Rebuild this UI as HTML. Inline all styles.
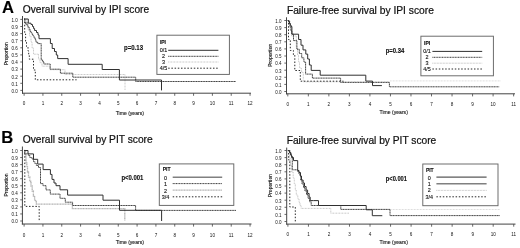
<!DOCTYPE html>
<html><head><meta charset="utf-8"><style>
html,body{margin:0;padding:0;background:#fff;}
svg{display:block;font-family:"Liberation Sans", sans-serif;filter:blur(0.35px);}
text{stroke:#111;stroke-width:0.12px;}
</style></head><body>
<svg width="520" height="248" viewBox="0 0 520 248">
<rect width="520" height="248" fill="#fff"/>
<line x1="22.5" y1="16" x2="22.5" y2="93.7" stroke="#444" stroke-width="1" />
<line x1="22.0" y1="93.2" x2="251" y2="93.2" stroke="#444" stroke-width="1" />
<line x1="20.3" y1="90.4" x2="22.5" y2="90.4" stroke="#444" stroke-width="0.8" />
<text x="17.7" y="92.7" font-size="4.5" text-anchor="end" font-weight="normal" fill="#111" style="stroke:none">0.0</text>
<line x1="20.3" y1="83.30000000000001" x2="22.5" y2="83.30000000000001" stroke="#444" stroke-width="0.8" />
<text x="17.7" y="85.60000000000001" font-size="4.5" text-anchor="end" font-weight="normal" fill="#111" style="stroke:none">0.1</text>
<line x1="20.3" y1="76.2" x2="22.5" y2="76.2" stroke="#444" stroke-width="0.8" />
<text x="17.7" y="78.5" font-size="4.5" text-anchor="end" font-weight="normal" fill="#111" style="stroke:none">0.2</text>
<line x1="20.3" y1="69.10000000000001" x2="22.5" y2="69.10000000000001" stroke="#444" stroke-width="0.8" />
<text x="17.7" y="71.4" font-size="4.5" text-anchor="end" font-weight="normal" fill="#111" style="stroke:none">0.3</text>
<line x1="20.3" y1="62.0" x2="22.5" y2="62.0" stroke="#444" stroke-width="0.8" />
<text x="17.7" y="64.3" font-size="4.5" text-anchor="end" font-weight="normal" fill="#111" style="stroke:none">0.4</text>
<line x1="20.3" y1="54.900000000000006" x2="22.5" y2="54.900000000000006" stroke="#444" stroke-width="0.8" />
<text x="17.7" y="57.2" font-size="4.5" text-anchor="end" font-weight="normal" fill="#111" style="stroke:none">0.5</text>
<line x1="20.3" y1="47.800000000000004" x2="22.5" y2="47.800000000000004" stroke="#444" stroke-width="0.8" />
<text x="17.7" y="50.1" font-size="4.5" text-anchor="end" font-weight="normal" fill="#111" style="stroke:none">0.6</text>
<line x1="20.3" y1="40.70000000000001" x2="22.5" y2="40.70000000000001" stroke="#444" stroke-width="0.8" />
<text x="17.7" y="43.00000000000001" font-size="4.5" text-anchor="end" font-weight="normal" fill="#111" style="stroke:none">0.7</text>
<line x1="20.3" y1="33.6" x2="22.5" y2="33.6" stroke="#444" stroke-width="0.8" />
<text x="17.7" y="35.9" font-size="4.5" text-anchor="end" font-weight="normal" fill="#111" style="stroke:none">0.8</text>
<line x1="20.3" y1="26.500000000000007" x2="22.5" y2="26.500000000000007" stroke="#444" stroke-width="0.8" />
<text x="17.7" y="28.800000000000008" font-size="4.5" text-anchor="end" font-weight="normal" fill="#111" style="stroke:none">0.9</text>
<line x1="20.3" y1="19.400000000000006" x2="22.5" y2="19.400000000000006" stroke="#444" stroke-width="0.8" />
<text x="17.7" y="21.700000000000006" font-size="4.5" text-anchor="end" font-weight="normal" fill="#111" style="stroke:none">1.0</text>
<line x1="24.1" y1="93.2" x2="24.1" y2="95.8" stroke="#444" stroke-width="0.8" />
<text x="24.1" y="105.2" font-size="4.6" text-anchor="middle" font-weight="normal" fill="#111" style="stroke:none">0</text>
<line x1="42.93" y1="93.2" x2="42.93" y2="95.8" stroke="#444" stroke-width="0.8" />
<text x="42.93" y="105.2" font-size="4.6" text-anchor="middle" font-weight="normal" fill="#111" style="stroke:none">1</text>
<line x1="61.76" y1="93.2" x2="61.76" y2="95.8" stroke="#444" stroke-width="0.8" />
<text x="61.76" y="105.2" font-size="4.6" text-anchor="middle" font-weight="normal" fill="#111" style="stroke:none">2</text>
<line x1="80.59" y1="93.2" x2="80.59" y2="95.8" stroke="#444" stroke-width="0.8" />
<text x="80.59" y="105.2" font-size="4.6" text-anchor="middle" font-weight="normal" fill="#111" style="stroke:none">3</text>
<line x1="99.41999999999999" y1="93.2" x2="99.41999999999999" y2="95.8" stroke="#444" stroke-width="0.8" />
<text x="99.41999999999999" y="105.2" font-size="4.6" text-anchor="middle" font-weight="normal" fill="#111" style="stroke:none">4</text>
<line x1="118.25" y1="93.2" x2="118.25" y2="95.8" stroke="#444" stroke-width="0.8" />
<text x="118.25" y="105.2" font-size="4.6" text-anchor="middle" font-weight="normal" fill="#111" style="stroke:none">5</text>
<line x1="137.07999999999998" y1="93.2" x2="137.07999999999998" y2="95.8" stroke="#444" stroke-width="0.8" />
<text x="137.07999999999998" y="105.2" font-size="4.6" text-anchor="middle" font-weight="normal" fill="#111" style="stroke:none">6</text>
<line x1="155.91" y1="93.2" x2="155.91" y2="95.8" stroke="#444" stroke-width="0.8" />
<text x="155.91" y="105.2" font-size="4.6" text-anchor="middle" font-weight="normal" fill="#111" style="stroke:none">7</text>
<line x1="174.73999999999998" y1="93.2" x2="174.73999999999998" y2="95.8" stroke="#444" stroke-width="0.8" />
<text x="174.73999999999998" y="105.2" font-size="4.6" text-anchor="middle" font-weight="normal" fill="#111" style="stroke:none">8</text>
<line x1="193.56999999999996" y1="93.2" x2="193.56999999999996" y2="95.8" stroke="#444" stroke-width="0.8" />
<text x="193.56999999999996" y="105.2" font-size="4.6" text-anchor="middle" font-weight="normal" fill="#111" style="stroke:none">9</text>
<line x1="212.39999999999998" y1="93.2" x2="212.39999999999998" y2="95.8" stroke="#444" stroke-width="0.8" />
<text x="212.39999999999998" y="105.2" font-size="4.6" text-anchor="middle" font-weight="normal" fill="#111" style="stroke:none">10</text>
<line x1="231.23" y1="93.2" x2="231.23" y2="95.8" stroke="#444" stroke-width="0.8" />
<text x="231.23" y="105.2" font-size="4.6" text-anchor="middle" font-weight="normal" fill="#111" style="stroke:none">11</text>
<line x1="250.05999999999997" y1="93.2" x2="250.05999999999997" y2="95.8" stroke="#444" stroke-width="0.8" />
<text x="250.05999999999997" y="105.2" font-size="4.6" text-anchor="middle" font-weight="normal" fill="#111" style="stroke:none">12</text>
<text x="129.8" y="115.4" font-size="5.8" text-anchor="middle" font-weight="normal" fill="#111"  textLength="28.3" lengthAdjust="spacingAndGlyphs">Time (years)</text>
<text x="0" y="0" font-size="5.0" fill="#111" text-anchor="middle" transform="translate(7.6,53.7) rotate(-90)">Proportion</text>
<text x="22.7" y="12.6" font-size="10.5" text-anchor="start" font-weight="normal" fill="#111" style="stroke-width:0.22px" textLength="126.5" lengthAdjust="spacingAndGlyphs">Overall survival by IPI score</text>
<text x="124" y="50.2" font-size="6.3" text-anchor="start" font-weight="bold" fill="#111"  textLength="19.0" lengthAdjust="spacingAndGlyphs">p=0.13</text>
<rect x="156.9" y="35.2" width="72.5" height="39.2" fill="none" stroke="#666" stroke-width="0.95"/>
<text x="159.9" y="44.0" font-size="5.0" text-anchor="start" font-weight="bold" fill="#111" >IPI</text>
<text x="163.6" y="52.25" font-size="5.4" text-anchor="middle" font-weight="normal" fill="#111" >0/1</text>
<line x1="168.2" y1="50.3" x2="218.4" y2="50.3" stroke="#303030" stroke-width="1.0" />
<text x="163.6" y="58.25" font-size="5.4" text-anchor="middle" font-weight="normal" fill="#111" >2</text>
<line x1="168.2" y1="56.3" x2="218.4" y2="56.3" stroke="#3c3c3c" stroke-width="1.0" stroke-dasharray="1.1 0.5"/>
<text x="163.6" y="63.95" font-size="5.4" text-anchor="middle" font-weight="normal" fill="#111" >3</text>
<line x1="168.2" y1="62.0" x2="218.4" y2="62.0" stroke="#b8b8b8" stroke-width="0.9" stroke-dasharray="0.8 0.7"/>
<text x="163.6" y="70.15" font-size="5.4" text-anchor="middle" font-weight="normal" fill="#111" >4/5</text>
<line x1="168.2" y1="68.2" x2="218.4" y2="68.2" stroke="#2a2a2a" stroke-width="1.0" stroke-dasharray="1.5 1.7"/>
<polyline points="24.1,19.0 26.8,19.0 26.8,24 28,24 28,30 29.5,30 29.5,36 31,36 31,42 32.1,42 32.1,48 33.5,48 33.5,54.2 38.5,54.2 38.5,59 40,59 40,62.7 42,62.7 42,66.2 49.8,66.2 49.8,69.7 65,69.7 65,74.5 125,74.5 125,90.4" fill="none" stroke="#b8b8b8" stroke-width="0.9" stroke-dasharray="0.8 0.7"/>
<polyline points="24.1,19.0 24.7,19.0 24.7,34 25.6,34 25.6,42 26.5,42 26.5,46.5 28,46.5 28,51 28.7,51 28.7,55 29.3,55 29.3,59.2 33.5,59.2 33.5,70 35.3,70 35.3,79.8 76.6,79.8" fill="none" stroke="#2a2a2a" stroke-width="1.0" stroke-dasharray="1.5 1.7"/>
<polyline points="24.1,19.0 24.9,19.0 24.9,23 26,23 26,24.5 27.3,24.5 27.3,26 28.3,26 28.3,27.5 29.3,27.5 29.3,29.5 30.2,29.5 30.2,31.5 31.2,31.5 31.2,33 32.2,33 32.2,34.5 33.1,34.5 33.1,36 34.1,36 34.1,37.8 35.1,37.8 35.1,39.6 35.9,39.6 35.9,42 37.7,42 37.7,43.6 41.2,43.6 41.2,59.8 42.6,59.8 42.6,61.6 43.8,61.6 43.8,64 50.2,64 50.2,69.2 60.4,69.2 60.4,73.2 72.8,73.2 72.8,77.2 135.7,77.2 135.7,81.5 236,81.5" fill="none" stroke="#454545" stroke-width="1.0" stroke-dasharray="1.3 0.35"/>
<polyline points="24.9,22.9 28.3,22.9" fill="none" stroke="#454545" stroke-width="1.0" stroke-dasharray="1.3 0.35"/>
<polyline points="24.1,19.0 28.3,19.0 28.3,23.2 31,23.2 31,24.5 32.5,24.5 32.5,26.5 33.6,26.5 33.6,28.6 34.6,28.6 34.6,30.5 36.5,30.5 36.5,32.5 38,32.5 38,34.9 39,34.9 39,38.7 50.4,38.7 50.4,43.5 52.2,43.5 52.2,48.5 54.5,48.5 54.5,51.5 56.3,51.5 56.3,55 57.7,55 57.7,58.6 68.1,58.6 68.1,64.3 102.2,64.3 102.2,69.5 119.4,69.5 119.4,80 161.5,80 161.5,90.4" fill="none" stroke="#303030" stroke-width="1.0" />
<line x1="286.5" y1="17.3" x2="286.5" y2="94.3" stroke="#444" stroke-width="1" />
<line x1="286.0" y1="93.8" x2="515" y2="93.8" stroke="#444" stroke-width="1" />
<line x1="284.3" y1="91.5" x2="286.5" y2="91.5" stroke="#444" stroke-width="0.8" />
<text x="281.6" y="93.8" font-size="4.5" text-anchor="end" font-weight="normal" fill="#111" style="stroke:none">0.0</text>
<line x1="284.3" y1="84.4" x2="286.5" y2="84.4" stroke="#444" stroke-width="0.8" />
<text x="281.6" y="86.7" font-size="4.5" text-anchor="end" font-weight="normal" fill="#111" style="stroke:none">0.1</text>
<line x1="284.3" y1="77.3" x2="286.5" y2="77.3" stroke="#444" stroke-width="0.8" />
<text x="281.6" y="79.6" font-size="4.5" text-anchor="end" font-weight="normal" fill="#111" style="stroke:none">0.2</text>
<line x1="284.3" y1="70.2" x2="286.5" y2="70.2" stroke="#444" stroke-width="0.8" />
<text x="281.6" y="72.5" font-size="4.5" text-anchor="end" font-weight="normal" fill="#111" style="stroke:none">0.3</text>
<line x1="284.3" y1="63.099999999999994" x2="286.5" y2="63.099999999999994" stroke="#444" stroke-width="0.8" />
<text x="281.6" y="65.39999999999999" font-size="4.5" text-anchor="end" font-weight="normal" fill="#111" style="stroke:none">0.4</text>
<line x1="284.3" y1="56.0" x2="286.5" y2="56.0" stroke="#444" stroke-width="0.8" />
<text x="281.6" y="58.3" font-size="4.5" text-anchor="end" font-weight="normal" fill="#111" style="stroke:none">0.5</text>
<line x1="284.3" y1="48.9" x2="286.5" y2="48.9" stroke="#444" stroke-width="0.8" />
<text x="281.6" y="51.199999999999996" font-size="4.5" text-anchor="end" font-weight="normal" fill="#111" style="stroke:none">0.6</text>
<line x1="284.3" y1="41.800000000000004" x2="286.5" y2="41.800000000000004" stroke="#444" stroke-width="0.8" />
<text x="281.6" y="44.1" font-size="4.5" text-anchor="end" font-weight="normal" fill="#111" style="stroke:none">0.7</text>
<line x1="284.3" y1="34.699999999999996" x2="286.5" y2="34.699999999999996" stroke="#444" stroke-width="0.8" />
<text x="281.6" y="36.99999999999999" font-size="4.5" text-anchor="end" font-weight="normal" fill="#111" style="stroke:none">0.8</text>
<line x1="284.3" y1="27.6" x2="286.5" y2="27.6" stroke="#444" stroke-width="0.8" />
<text x="281.6" y="29.900000000000002" font-size="4.5" text-anchor="end" font-weight="normal" fill="#111" style="stroke:none">0.9</text>
<line x1="284.3" y1="20.5" x2="286.5" y2="20.5" stroke="#444" stroke-width="0.8" />
<text x="281.6" y="22.8" font-size="4.5" text-anchor="end" font-weight="normal" fill="#111" style="stroke:none">1.0</text>
<line x1="287.8" y1="93.8" x2="287.8" y2="96.39999999999999" stroke="#444" stroke-width="0.8" />
<text x="287.8" y="106.1" font-size="4.6" text-anchor="middle" font-weight="normal" fill="#111" style="stroke:none">0</text>
<line x1="308.33000000000004" y1="93.8" x2="308.33000000000004" y2="96.39999999999999" stroke="#444" stroke-width="0.8" />
<text x="308.33000000000004" y="106.1" font-size="4.6" text-anchor="middle" font-weight="normal" fill="#111" style="stroke:none">1</text>
<line x1="328.86" y1="93.8" x2="328.86" y2="96.39999999999999" stroke="#444" stroke-width="0.8" />
<text x="328.86" y="106.1" font-size="4.6" text-anchor="middle" font-weight="normal" fill="#111" style="stroke:none">2</text>
<line x1="349.39" y1="93.8" x2="349.39" y2="96.39999999999999" stroke="#444" stroke-width="0.8" />
<text x="349.39" y="106.1" font-size="4.6" text-anchor="middle" font-weight="normal" fill="#111" style="stroke:none">3</text>
<line x1="369.92" y1="93.8" x2="369.92" y2="96.39999999999999" stroke="#444" stroke-width="0.8" />
<text x="369.92" y="106.1" font-size="4.6" text-anchor="middle" font-weight="normal" fill="#111" style="stroke:none">4</text>
<line x1="390.45000000000005" y1="93.8" x2="390.45000000000005" y2="96.39999999999999" stroke="#444" stroke-width="0.8" />
<text x="390.45000000000005" y="106.1" font-size="4.6" text-anchor="middle" font-weight="normal" fill="#111" style="stroke:none">5</text>
<line x1="410.98" y1="93.8" x2="410.98" y2="96.39999999999999" stroke="#444" stroke-width="0.8" />
<text x="410.98" y="106.1" font-size="4.6" text-anchor="middle" font-weight="normal" fill="#111" style="stroke:none">6</text>
<line x1="431.51" y1="93.8" x2="431.51" y2="96.39999999999999" stroke="#444" stroke-width="0.8" />
<text x="431.51" y="106.1" font-size="4.6" text-anchor="middle" font-weight="normal" fill="#111" style="stroke:none">7</text>
<line x1="452.04" y1="93.8" x2="452.04" y2="96.39999999999999" stroke="#444" stroke-width="0.8" />
<text x="452.04" y="106.1" font-size="4.6" text-anchor="middle" font-weight="normal" fill="#111" style="stroke:none">8</text>
<line x1="472.57000000000005" y1="93.8" x2="472.57000000000005" y2="96.39999999999999" stroke="#444" stroke-width="0.8" />
<text x="472.57000000000005" y="106.1" font-size="4.6" text-anchor="middle" font-weight="normal" fill="#111" style="stroke:none">9</text>
<line x1="493.1" y1="93.8" x2="493.1" y2="96.39999999999999" stroke="#444" stroke-width="0.8" />
<text x="493.1" y="106.1" font-size="4.6" text-anchor="middle" font-weight="normal" fill="#111" style="stroke:none">10</text>
<line x1="513.63" y1="93.8" x2="513.63" y2="96.39999999999999" stroke="#444" stroke-width="0.8" />
<text x="513.63" y="106.1" font-size="4.6" text-anchor="middle" font-weight="normal" fill="#111" style="stroke:none">11</text>
<text x="393.7" y="114.4" font-size="5.8" text-anchor="middle" font-weight="normal" fill="#111"  textLength="28.3" lengthAdjust="spacingAndGlyphs">Time (years)</text>
<text x="0" y="0" font-size="5.0" fill="#111" text-anchor="middle" transform="translate(271.6,55.3) rotate(-90)">Proportion</text>
<text x="286.9" y="13.6" font-size="10.5" text-anchor="start" font-weight="normal" fill="#111" style="stroke-width:0.22px" textLength="147" lengthAdjust="spacingAndGlyphs">Failure-free survival by IPI score</text>
<text x="385.7" y="52.9" font-size="6.3" text-anchor="start" font-weight="bold" fill="#111"  textLength="18.5" lengthAdjust="spacingAndGlyphs">p=0.34</text>
<rect x="420.9" y="36.2" width="72.5" height="39.599999999999994" fill="none" stroke="#666" stroke-width="0.95"/>
<text x="424.0" y="44.6" font-size="5.0" text-anchor="start" font-weight="bold" fill="#111" >IPI</text>
<text x="427" y="53.35" font-size="5.4" text-anchor="middle" font-weight="normal" fill="#111" >0/1</text>
<line x1="432.4" y1="51.4" x2="482.2" y2="51.4" stroke="#303030" stroke-width="1.0" />
<text x="427" y="59.25" font-size="5.4" text-anchor="middle" font-weight="normal" fill="#111" >2</text>
<line x1="432.4" y1="57.3" x2="482.2" y2="57.3" stroke="#3c3c3c" stroke-width="1.0" stroke-dasharray="1.1 0.5"/>
<text x="427" y="65.15" font-size="5.4" text-anchor="middle" font-weight="normal" fill="#111" >3</text>
<line x1="432.4" y1="63.2" x2="482.2" y2="63.2" stroke="#b8b8b8" stroke-width="0.9" stroke-dasharray="0.8 0.7"/>
<text x="427" y="70.95" font-size="5.4" text-anchor="middle" font-weight="normal" fill="#111" >4/5</text>
<line x1="432.4" y1="69.0" x2="482.2" y2="69.0" stroke="#2a2a2a" stroke-width="1.0" stroke-dasharray="1.5 1.7"/>
<polyline points="287.8,20.5 290,20.5 290,30 291.5,30 291.5,36 294,36 296.3,36 296.3,42 296.3,48 297.5,48 297.5,55 298.5,55 298.5,62 299.5,62 299.5,68 301.5,68 301.5,72.3 303.3,72.3 303.3,81.8 390,81.8" fill="none" stroke="#b8b8b8" stroke-width="0.9" stroke-dasharray="0.8 0.7"/>
<polyline points="390,80.9 501,80.9" fill="none" stroke="#d0d0d0" stroke-width="0.9" stroke-dasharray="0.8 0.7"/>
<polyline points="287.8,20.5 288.5,20.5 288.5,39.6 290.3,39.6 290.3,50.5 293.4,50.5 293.4,55 294.8,55 294.8,70.5 300.3,70.5 300.3,81.2 343.5,81.2" fill="none" stroke="#2a2a2a" stroke-width="1.0" stroke-dasharray="1.5 1.7"/>
<polyline points="287.8,20.5 289,20.5 289,23 290,23 290,27 291,27 291,31 291.9,31 291.9,34.2 293.5,34.2 293.5,40.6 296.9,40.6 296.9,49.3 299.3,49.3 299.3,53.5 301.7,53.5 301.7,57.8 303.9,57.8 303.9,62 305.6,62 305.6,74.1 312.4,74.1 312.4,78.1 340.6,78.1 340.6,82.4 389.4,82.4 389.4,86.8 499.2,86.8" fill="none" stroke="#454545" stroke-width="1.0" stroke-dasharray="1.3 0.35"/>
<polyline points="287.8,20.5 288.6,20.5 288.6,21.5 289.5,21.5 289.5,23.5 290.3,23.5 290.3,25 291,25 291,26.5 291.9,26.5 291.9,34.2 298.6,34.2 298.6,39.5 301,39.5 301,45.2 303,45.2 303,49.9 305.8,49.9 305.8,54.1 307.7,54.1 307.7,59 309.4,59 309.4,65 311.2,65 311.2,70.4 320.2,70.4 320.2,75.2 365.8,75.2 365.8,81.1 372.5,81.1 372.5,85.6 381.9,85.6" fill="none" stroke="#303030" stroke-width="1.0" />
<line x1="22.4" y1="146.5" x2="22.4" y2="224.5" stroke="#444" stroke-width="1" />
<line x1="21.9" y1="224.0" x2="251.5" y2="224.0" stroke="#444" stroke-width="1" />
<line x1="20.2" y1="221.0" x2="22.4" y2="221.0" stroke="#444" stroke-width="0.8" />
<text x="17.7" y="223.3" font-size="4.5" text-anchor="end" font-weight="normal" fill="#111" style="stroke:none">0.0</text>
<line x1="20.2" y1="213.95" x2="22.4" y2="213.95" stroke="#444" stroke-width="0.8" />
<text x="17.7" y="216.25" font-size="4.5" text-anchor="end" font-weight="normal" fill="#111" style="stroke:none">0.1</text>
<line x1="20.2" y1="206.9" x2="22.4" y2="206.9" stroke="#444" stroke-width="0.8" />
<text x="17.7" y="209.20000000000002" font-size="4.5" text-anchor="end" font-weight="normal" fill="#111" style="stroke:none">0.2</text>
<line x1="20.2" y1="199.85" x2="22.4" y2="199.85" stroke="#444" stroke-width="0.8" />
<text x="17.7" y="202.15" font-size="4.5" text-anchor="end" font-weight="normal" fill="#111" style="stroke:none">0.3</text>
<line x1="20.2" y1="192.8" x2="22.4" y2="192.8" stroke="#444" stroke-width="0.8" />
<text x="17.7" y="195.10000000000002" font-size="4.5" text-anchor="end" font-weight="normal" fill="#111" style="stroke:none">0.4</text>
<line x1="20.2" y1="185.75" x2="22.4" y2="185.75" stroke="#444" stroke-width="0.8" />
<text x="17.7" y="188.05" font-size="4.5" text-anchor="end" font-weight="normal" fill="#111" style="stroke:none">0.5</text>
<line x1="20.2" y1="178.7" x2="22.4" y2="178.7" stroke="#444" stroke-width="0.8" />
<text x="17.7" y="181.0" font-size="4.5" text-anchor="end" font-weight="normal" fill="#111" style="stroke:none">0.6</text>
<line x1="20.2" y1="171.65" x2="22.4" y2="171.65" stroke="#444" stroke-width="0.8" />
<text x="17.7" y="173.95000000000002" font-size="4.5" text-anchor="end" font-weight="normal" fill="#111" style="stroke:none">0.7</text>
<line x1="20.2" y1="164.6" x2="22.4" y2="164.6" stroke="#444" stroke-width="0.8" />
<text x="17.7" y="166.9" font-size="4.5" text-anchor="end" font-weight="normal" fill="#111" style="stroke:none">0.8</text>
<line x1="20.2" y1="157.55" x2="22.4" y2="157.55" stroke="#444" stroke-width="0.8" />
<text x="17.7" y="159.85000000000002" font-size="4.5" text-anchor="end" font-weight="normal" fill="#111" style="stroke:none">0.9</text>
<line x1="20.2" y1="150.5" x2="22.4" y2="150.5" stroke="#444" stroke-width="0.8" />
<text x="17.7" y="152.8" font-size="4.5" text-anchor="end" font-weight="normal" fill="#111" style="stroke:none">1.0</text>
<line x1="24.1" y1="224.0" x2="24.1" y2="226.6" stroke="#444" stroke-width="0.8" />
<text x="24.1" y="236.5" font-size="4.6" text-anchor="middle" font-weight="normal" fill="#111" style="stroke:none">0</text>
<line x1="42.93" y1="224.0" x2="42.93" y2="226.6" stroke="#444" stroke-width="0.8" />
<text x="42.93" y="236.5" font-size="4.6" text-anchor="middle" font-weight="normal" fill="#111" style="stroke:none">1</text>
<line x1="61.76" y1="224.0" x2="61.76" y2="226.6" stroke="#444" stroke-width="0.8" />
<text x="61.76" y="236.5" font-size="4.6" text-anchor="middle" font-weight="normal" fill="#111" style="stroke:none">2</text>
<line x1="80.59" y1="224.0" x2="80.59" y2="226.6" stroke="#444" stroke-width="0.8" />
<text x="80.59" y="236.5" font-size="4.6" text-anchor="middle" font-weight="normal" fill="#111" style="stroke:none">3</text>
<line x1="99.41999999999999" y1="224.0" x2="99.41999999999999" y2="226.6" stroke="#444" stroke-width="0.8" />
<text x="99.41999999999999" y="236.5" font-size="4.6" text-anchor="middle" font-weight="normal" fill="#111" style="stroke:none">4</text>
<line x1="118.25" y1="224.0" x2="118.25" y2="226.6" stroke="#444" stroke-width="0.8" />
<text x="118.25" y="236.5" font-size="4.6" text-anchor="middle" font-weight="normal" fill="#111" style="stroke:none">5</text>
<line x1="137.07999999999998" y1="224.0" x2="137.07999999999998" y2="226.6" stroke="#444" stroke-width="0.8" />
<text x="137.07999999999998" y="236.5" font-size="4.6" text-anchor="middle" font-weight="normal" fill="#111" style="stroke:none">6</text>
<line x1="155.91" y1="224.0" x2="155.91" y2="226.6" stroke="#444" stroke-width="0.8" />
<text x="155.91" y="236.5" font-size="4.6" text-anchor="middle" font-weight="normal" fill="#111" style="stroke:none">7</text>
<line x1="174.73999999999998" y1="224.0" x2="174.73999999999998" y2="226.6" stroke="#444" stroke-width="0.8" />
<text x="174.73999999999998" y="236.5" font-size="4.6" text-anchor="middle" font-weight="normal" fill="#111" style="stroke:none">8</text>
<line x1="193.56999999999996" y1="224.0" x2="193.56999999999996" y2="226.6" stroke="#444" stroke-width="0.8" />
<text x="193.56999999999996" y="236.5" font-size="4.6" text-anchor="middle" font-weight="normal" fill="#111" style="stroke:none">9</text>
<line x1="212.39999999999998" y1="224.0" x2="212.39999999999998" y2="226.6" stroke="#444" stroke-width="0.8" />
<text x="212.39999999999998" y="236.5" font-size="4.6" text-anchor="middle" font-weight="normal" fill="#111" style="stroke:none">10</text>
<line x1="231.23" y1="224.0" x2="231.23" y2="226.6" stroke="#444" stroke-width="0.8" />
<text x="231.23" y="236.5" font-size="4.6" text-anchor="middle" font-weight="normal" fill="#111" style="stroke:none">11</text>
<line x1="250.05999999999997" y1="224.0" x2="250.05999999999997" y2="226.6" stroke="#444" stroke-width="0.8" />
<text x="250.05999999999997" y="236.5" font-size="4.6" text-anchor="middle" font-weight="normal" fill="#111" style="stroke:none">12</text>
<text x="129.8" y="244.0" font-size="5.8" text-anchor="middle" font-weight="normal" fill="#111"  textLength="28.3" lengthAdjust="spacingAndGlyphs">Time (years)</text>
<text x="0" y="0" font-size="5.0" fill="#111" text-anchor="middle" transform="translate(7.6,184.9) rotate(-90)">Proportion</text>
<text x="22.7" y="143.4" font-size="10.5" text-anchor="start" font-weight="normal" fill="#111" style="stroke-width:0.22px" textLength="130" lengthAdjust="spacingAndGlyphs">Overall survival by PIT score</text>
<text x="121.4" y="180.3" font-size="6.3" text-anchor="start" font-weight="bold" fill="#111"  textLength="22.0" lengthAdjust="spacingAndGlyphs">p&lt;0.001</text>
<rect x="159.3" y="163.9" width="74.5" height="41.5" fill="none" stroke="#666" stroke-width="0.95"/>
<text x="162.7" y="171" font-size="5.0" text-anchor="start" font-weight="bold" fill="#111" >PIT</text>
<text x="165.5" y="180.04999999999998" font-size="5.4" text-anchor="middle" font-weight="normal" fill="#111" >0</text>
<line x1="172.7" y1="177.2" x2="222.2" y2="177.2" stroke="#808080" stroke-width="1.4" />
<text x="165.5" y="186.04999999999998" font-size="5.4" text-anchor="middle" font-weight="normal" fill="#111" >1</text>
<line x1="172.7" y1="183.6" x2="222.2" y2="183.6" stroke="#3c3c3c" stroke-width="1.0" stroke-dasharray="1.1 0.5"/>
<text x="165.5" y="192.54999999999998" font-size="5.4" text-anchor="middle" font-weight="normal" fill="#111" >2</text>
<line x1="172.7" y1="190.1" x2="222.2" y2="190.1" stroke="#b4b4b4" stroke-width="1.3" stroke-dasharray="1.2 0.4"/>
<text x="165.5" y="198.85" font-size="5.4" text-anchor="middle" font-weight="normal" fill="#111" >3/4</text>
<line x1="172.7" y1="196.8" x2="222.2" y2="196.8" stroke="#2a2a2a" stroke-width="1.0" stroke-dasharray="1.5 1.7"/>
<polyline points="24.1,150.5 25.5,150.5 25.5,156 26,156 26,162 26.8,162 26.8,167 27.5,167 27.5,172 28.5,172 28.5,177 29.8,177 29.8,181.5 31,181.5 31,186 32.2,186 32.2,191 33.4,191 33.4,196 34.6,196 34.6,200.5 36.3,200.5 36.3,204.2 72.4,204.2 72.4,208.6 124.8,208.6 124.8,221" fill="none" stroke="#b4b4b4" stroke-width="1.3" stroke-dasharray="1.2 0.4"/>
<polyline points="24.1,150.5 24.8,150.5 24.8,206.4 39.2,206.4 39.2,221" fill="none" stroke="#2a2a2a" stroke-width="1.0" stroke-dasharray="1.5 1.7"/>
<polyline points="24.1,150.5 24.6,150.5 24.6,153.9 28.4,153.9 28.4,155.5 29.8,155.5 29.8,157.5 32,157.5 32,159 33.5,159 33.5,161.6 34.9,161.6 34.9,163.5 36.4,163.5 36.4,165.5 38.5,165.5 38.5,167.5 40.5,167.5 40.5,183.6 43,183.6 43,185.7 46,185.7 46,189.9 50.3,189.9 50.3,194.1 60,194.1 60,198.3 65.3,198.3 65.3,202.2 72.6,202.2 72.6,205.5 135.6,205.5 135.6,210.4 236,210.4" fill="none" stroke="#454545" stroke-width="1.0" stroke-dasharray="1.3 0.35"/>
<polyline points="24.1,150.5 28,150.5 28,153.9 33.5,153.9 33.5,159.3 37.7,159.3 37.7,164.1 43.1,164.1 43.1,169.6 50.4,169.6 50.4,174.4 52,174.4 52,179.4 54,179.4 54,183 56,183 56,185.7 60,185.7 60,189.8 67.6,189.8 67.6,195.1 103,195.1 103,200.2 119.5,200.2 119.5,210.3 161.6,210.3 161.6,221" fill="none" stroke="#303030" stroke-width="1.0" />
<line x1="286.7" y1="147.6" x2="286.7" y2="224.6" stroke="#444" stroke-width="1" />
<line x1="286.2" y1="224.1" x2="515.5" y2="224.1" stroke="#444" stroke-width="1" />
<line x1="284.5" y1="221.5" x2="286.7" y2="221.5" stroke="#444" stroke-width="0.8" />
<text x="281.6" y="223.8" font-size="4.5" text-anchor="end" font-weight="normal" fill="#111" style="stroke:none">0.0</text>
<line x1="284.5" y1="214.4" x2="286.7" y2="214.4" stroke="#444" stroke-width="0.8" />
<text x="281.6" y="216.70000000000002" font-size="4.5" text-anchor="end" font-weight="normal" fill="#111" style="stroke:none">0.1</text>
<line x1="284.5" y1="207.3" x2="286.7" y2="207.3" stroke="#444" stroke-width="0.8" />
<text x="281.6" y="209.60000000000002" font-size="4.5" text-anchor="end" font-weight="normal" fill="#111" style="stroke:none">0.2</text>
<line x1="284.5" y1="200.2" x2="286.7" y2="200.2" stroke="#444" stroke-width="0.8" />
<text x="281.6" y="202.5" font-size="4.5" text-anchor="end" font-weight="normal" fill="#111" style="stroke:none">0.3</text>
<line x1="284.5" y1="193.1" x2="286.7" y2="193.1" stroke="#444" stroke-width="0.8" />
<text x="281.6" y="195.4" font-size="4.5" text-anchor="end" font-weight="normal" fill="#111" style="stroke:none">0.4</text>
<line x1="284.5" y1="186.0" x2="286.7" y2="186.0" stroke="#444" stroke-width="0.8" />
<text x="281.6" y="188.3" font-size="4.5" text-anchor="end" font-weight="normal" fill="#111" style="stroke:none">0.5</text>
<line x1="284.5" y1="178.9" x2="286.7" y2="178.9" stroke="#444" stroke-width="0.8" />
<text x="281.6" y="181.20000000000002" font-size="4.5" text-anchor="end" font-weight="normal" fill="#111" style="stroke:none">0.6</text>
<line x1="284.5" y1="171.8" x2="286.7" y2="171.8" stroke="#444" stroke-width="0.8" />
<text x="281.6" y="174.10000000000002" font-size="4.5" text-anchor="end" font-weight="normal" fill="#111" style="stroke:none">0.7</text>
<line x1="284.5" y1="164.7" x2="286.7" y2="164.7" stroke="#444" stroke-width="0.8" />
<text x="281.6" y="167.0" font-size="4.5" text-anchor="end" font-weight="normal" fill="#111" style="stroke:none">0.8</text>
<line x1="284.5" y1="157.6" x2="286.7" y2="157.6" stroke="#444" stroke-width="0.8" />
<text x="281.6" y="159.9" font-size="4.5" text-anchor="end" font-weight="normal" fill="#111" style="stroke:none">0.9</text>
<line x1="284.5" y1="150.5" x2="286.7" y2="150.5" stroke="#444" stroke-width="0.8" />
<text x="281.6" y="152.8" font-size="4.5" text-anchor="end" font-weight="normal" fill="#111" style="stroke:none">1.0</text>
<line x1="287.9" y1="224.1" x2="287.9" y2="226.7" stroke="#444" stroke-width="0.8" />
<text x="287.9" y="236.1" font-size="4.6" text-anchor="middle" font-weight="normal" fill="#111" style="stroke:none">0</text>
<line x1="308.42999999999995" y1="224.1" x2="308.42999999999995" y2="226.7" stroke="#444" stroke-width="0.8" />
<text x="308.42999999999995" y="236.1" font-size="4.6" text-anchor="middle" font-weight="normal" fill="#111" style="stroke:none">1</text>
<line x1="328.96" y1="224.1" x2="328.96" y2="226.7" stroke="#444" stroke-width="0.8" />
<text x="328.96" y="236.1" font-size="4.6" text-anchor="middle" font-weight="normal" fill="#111" style="stroke:none">2</text>
<line x1="349.49" y1="224.1" x2="349.49" y2="226.7" stroke="#444" stroke-width="0.8" />
<text x="349.49" y="236.1" font-size="4.6" text-anchor="middle" font-weight="normal" fill="#111" style="stroke:none">3</text>
<line x1="370.02" y1="224.1" x2="370.02" y2="226.7" stroke="#444" stroke-width="0.8" />
<text x="370.02" y="236.1" font-size="4.6" text-anchor="middle" font-weight="normal" fill="#111" style="stroke:none">4</text>
<line x1="390.54999999999995" y1="224.1" x2="390.54999999999995" y2="226.7" stroke="#444" stroke-width="0.8" />
<text x="390.54999999999995" y="236.1" font-size="4.6" text-anchor="middle" font-weight="normal" fill="#111" style="stroke:none">5</text>
<line x1="411.08" y1="224.1" x2="411.08" y2="226.7" stroke="#444" stroke-width="0.8" />
<text x="411.08" y="236.1" font-size="4.6" text-anchor="middle" font-weight="normal" fill="#111" style="stroke:none">6</text>
<line x1="431.61" y1="224.1" x2="431.61" y2="226.7" stroke="#444" stroke-width="0.8" />
<text x="431.61" y="236.1" font-size="4.6" text-anchor="middle" font-weight="normal" fill="#111" style="stroke:none">7</text>
<line x1="452.14" y1="224.1" x2="452.14" y2="226.7" stroke="#444" stroke-width="0.8" />
<text x="452.14" y="236.1" font-size="4.6" text-anchor="middle" font-weight="normal" fill="#111" style="stroke:none">8</text>
<line x1="472.66999999999996" y1="224.1" x2="472.66999999999996" y2="226.7" stroke="#444" stroke-width="0.8" />
<text x="472.66999999999996" y="236.1" font-size="4.6" text-anchor="middle" font-weight="normal" fill="#111" style="stroke:none">9</text>
<line x1="493.2" y1="224.1" x2="493.2" y2="226.7" stroke="#444" stroke-width="0.8" />
<text x="493.2" y="236.1" font-size="4.6" text-anchor="middle" font-weight="normal" fill="#111" style="stroke:none">10</text>
<line x1="513.73" y1="224.1" x2="513.73" y2="226.7" stroke="#444" stroke-width="0.8" />
<text x="513.73" y="236.1" font-size="4.6" text-anchor="middle" font-weight="normal" fill="#111" style="stroke:none">11</text>
<text x="393.7" y="244.3" font-size="5.8" text-anchor="middle" font-weight="normal" fill="#111"  textLength="28.3" lengthAdjust="spacingAndGlyphs">Time (years)</text>
<text x="0" y="0" font-size="5.0" fill="#111" text-anchor="middle" transform="translate(271.6,185.6) rotate(-90)">Proportion</text>
<text x="286.7" y="143.7" font-size="10.5" text-anchor="start" font-weight="normal" fill="#111" style="stroke-width:0.22px" textLength="149.6" lengthAdjust="spacingAndGlyphs">Failure-free survival by PIT score</text>
<text x="385.8" y="180.5" font-size="6.3" text-anchor="start" font-weight="bold" fill="#111"  textLength="21.2" lengthAdjust="spacingAndGlyphs">p&lt;0.001</text>
<rect x="422.8" y="164" width="75.19999999999999" height="41.69999999999999" fill="none" stroke="#666" stroke-width="0.95"/>
<text x="425.9" y="171.8" font-size="5.0" text-anchor="start" font-weight="bold" fill="#111" >PIT</text>
<text x="429.3" y="180.25" font-size="5.4" text-anchor="middle" font-weight="normal" fill="#111" >0</text>
<line x1="436.4" y1="177.1" x2="486.6" y2="177.1" stroke="#303030" stroke-width="1.0" />
<text x="429.3" y="186.04999999999998" font-size="5.4" text-anchor="middle" font-weight="normal" fill="#111" >1</text>
<line x1="436.4" y1="183.8" x2="486.6" y2="183.8" stroke="#808080" stroke-width="1.4" />
<text x="429.3" y="192.45" font-size="5.4" text-anchor="middle" font-weight="normal" fill="#111" >2</text>
<line x1="436.4" y1="190.4" x2="486.6" y2="190.4" stroke="#b8b8b8" stroke-width="0.9" stroke-dasharray="0.8 0.7"/>
<text x="429.3" y="198.75" font-size="5.4" text-anchor="middle" font-weight="normal" fill="#111" >3/4</text>
<line x1="436.4" y1="196.8" x2="486.6" y2="196.8" stroke="#2a2a2a" stroke-width="1.0" stroke-dasharray="1.5 1.7"/>
<polyline points="287.9,150.5 289.5,150.5 289.5,158 290.4,158 290.4,165 291.5,165 291.5,172 293.2,172 293.2,178 294.3,178 294.3,184 295.3,184 295.3,190 296.3,190 296.3,195 297.8,195 297.8,199 299.1,199 299.1,202.5 300,202.5 300,205.5 301.1,205.5 301.1,208.4 330.8,208.4 330.8,213.2 349.2,213.2" fill="none" stroke="#b8b8b8" stroke-width="0.9" stroke-dasharray="0.8 0.7"/>
<polyline points="360,209.5 500,209.5" fill="none" stroke="#d0d0d0" stroke-width="0.9" stroke-dasharray="0.8 0.7"/>
<polyline points="287.9,150.5 288.6,150.5 288.6,160 289.8,160 289.8,207 295.3,207 295.3,221.5" fill="none" stroke="#2a2a2a" stroke-width="1.0" stroke-dasharray="1.5 1.7"/>
<polyline points="287.9,150.5 290,150.5 290,153 291.2,153 291.2,156 292.3,156 292.3,169.8 297.7,169.8 297.7,171.6 298.9,171.6 298.9,174 300.1,174 300.1,176.2 300.7,176.2 300.7,180 302,180 302,184 303.5,184 303.5,187.5 304.9,187.5 304.9,190.9 306.5,190.9 306.5,194.5 308,194.5 308,198.2 309.6,198.2 309.6,201.8 311.2,201.8 311.2,205.5 340.8,205.5 340.8,209.4 390,209.4 390,215.6 499.7,215.6" fill="none" stroke="#454545" stroke-width="1.0" stroke-dasharray="1.3 0.35"/>
<polyline points="287.9,150.5 289.5,150.5 289.5,152.5 290.6,152.5 290.6,155 291.6,155 291.6,157.5 293.5,157.5 293.5,160.6 297.7,160.6 297.7,170.5 299,170.5 299,172.5 300.5,172.5 300.5,176 301.5,176 301.5,180 303.1,180 303.1,183 304.5,183 304.5,186.5 306.1,186.5 306.1,190.1 307.6,190.1 307.6,193.5 309.1,193.5 309.1,197.1 310.2,197.1 310.2,200.6 313.5,200.6 318.5,200.6 318.5,205.5 366.2,205.5 366.2,209.8 372.3,209.8 372.3,215.7 382.3,215.7" fill="none" stroke="#303030" stroke-width="1.0" />
<text x="2" y="13.3" font-size="16.6" text-anchor="start" font-weight="bold" fill="#000" >A</text>
<text x="1.3" y="143.4" font-size="16.6" text-anchor="start" font-weight="bold" fill="#000" >B</text>
</svg></body></html>
